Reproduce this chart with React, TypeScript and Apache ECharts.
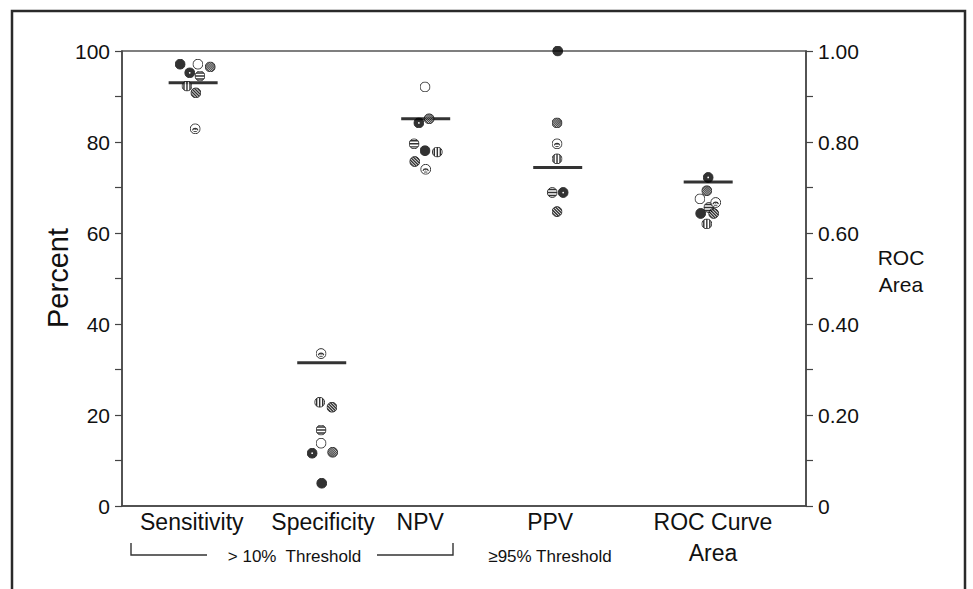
import React, { useEffect, useRef } from 'react';
import * as echarts from 'echarts';

// ---------- data ----------
const categories = ['Sensitivity', 'Specificity', 'NPV', 'PPV', 'ROC Curve\nArea'];
// positions of the groups on the (hidden-scale) x axis, 0..100
const categoryX = [10.4, 29.2, 44.4, 63.7, 85.7];
const labelX = [10.2, 29.4, 43.6, 62.6, 86.4];

const studyNames = ['Study 1', 'Study 2', 'Study 3', 'Study 4', 'Study 5', 'Study 6', 'Study 7', 'Study 8'];
const markerKinds = ['solid', 'dotted', 'open', 'crosshatch', 'horizontal', 'vertical', 'diagonal', 'face'];

const sensitivity = [97.1, 95.2, 97.1, 96.5, 94.5, 92.3, 90.8, 82.9];
const specificity = [5.0, 11.6, 13.8, 11.8, 16.7, 22.8, 21.7, 33.5];
const npv = [78.1, 84.2, 92.1, 85.1, 79.6, 77.8, 75.7, 74.0];
const ppv: (number | null)[] = [100, 68.9, null, 84.2, 68.9, 76.3, 64.7, 79.6];
const rocArea = [0.643, 0.722, 0.675, 0.693, 0.656, 0.62, 0.643, 0.667];

// horizontal jitter of each study's point inside its group (x-axis units)
const sensJitter = [-1.9, -0.5, 0.7, 2.5, 1.0, -0.9, 0.4, 0.3];
const specJitter = [0, -1.4, -0.1, 1.6, -0.1, -0.3, 1.5, -0.1];
const npvJitter = [-0.1, -1.0, -0.1, 0.5, -1.7, 1.7, -1.6, 0];
const ppvJitter = [0, 0.8, 0, -0.1, -0.8, -0.1, -0.1, -0.1];
const rocJitter = [-1.1, 0, -1.2, -0.2, 0.1, -0.2, 0.8, 1.1];

const pooledPercent = [93.0, 31.5, 85.1, 74.4];
const pooledRoc = 0.712;

const percentTicks = [0, 20, 40, 60, 80, 100];

// ---------- markers ----------
const FONT = "'Liberation Sans', Arial, Helvetica, sans-serif";

function markerSvg(kind: string): string {
  let inner = '';
  let fill = 'white';
  const lines: string[] = [];
  if (kind === 'solid') fill = 'black';
  if (kind === 'dotted') {
    fill = 'black';
    inner = "<circle cx='10' cy='10' r='1.6' fill='white'/>";
  }
  if (kind === 'horizontal') {
    for (const y of [4.5, 10, 15.5]) lines.push(`<line x1='0' y1='${y}' x2='20' y2='${y}'/>`);
  }
  if (kind === 'vertical') {
    for (const x of [4.5, 10, 15.5]) lines.push(`<line x1='${x}' y1='0' x2='${x}' y2='20'/>`);
  }
  if (kind === 'diagonal') {
    for (const c of [-11, -5.5, 0, 5.5, 11]) lines.push(`<line x1='${c - 5}' y1='-5' x2='${c + 25}' y2='25'/>`);
  }
  let sw = 2.6;
  if (kind === 'crosshatch') {
    sw = 1.4;
    for (let c = -20; c <= 20; c += 3.4) {
      lines.push(`<line x1='${c - 5}' y1='-5' x2='${c + 25}' y2='25'/>`);
      lines.push(`<line x1='${c + 25}' y1='-5' x2='${c - 5}' y2='25'/>`);
    }
  }
  if (kind === 'face') {
    inner =
      "<path d='M5 13 A5.2 5.2 0 0 1 15 13' fill='none' stroke='black' stroke-width='2'/>" +
      "<line x1='7' y1='15' x2='13' y2='15' stroke='black' stroke-width='1.6'/>" +
      "<circle cx='10' cy='11' r='1.2' fill='black'/>";
  }
  const svg =
    `<svg xmlns='http://www.w3.org/2000/svg' width='20' height='20' viewBox='0 0 20 20'>` +
    `<defs><clipPath id='c'><circle cx='10' cy='10' r='9'/></clipPath></defs>` +
    `<circle cx='10' cy='10' r='9' fill='${fill}'/>` +
    `<g clip-path='url(#c)' stroke='black' stroke-width='${sw}'>${lines.join('')}</g>` +
    inner +
    `<circle cx='10' cy='10' r='9' fill='none' stroke='black' stroke-width='1.8'/>` +
    `</svg>`;
  return 'image://data:image/svg+xml;charset=utf-8,' + encodeURIComponent(svg);
}

export default function App() {
  const ref = useRef<HTMLDivElement>(null);

  useEffect(() => {
    if (!ref.current) return;
    const chart = echarts.init(ref.current, undefined, { renderer: 'svg' });

    const metricValues = [sensitivity, specificity, npv, ppv];
    const metricJitter = [sensJitter, specJitter, npvJitter, ppvJitter];

    const studySeries: any[] = [];
    studyNames.forEach((name, s) => {
      const symbol = markerSvg(markerKinds[s]);
      const data: any[] = [];
      metricValues.forEach((vals, m) => {
        const v = vals[s];
        if (v != null) data.push([categoryX[m] + metricJitter[m][s], v]);
      });
      studySeries.push({
        name,
        type: 'scatter',
        xAxisIndex: 0,
        yAxisIndex: 0,
        symbol,
        symbolSize: 11,
        z: 5,
        data,
      });
      studySeries.push({
        name,
        type: 'scatter',
        xAxisIndex: 0,
        yAxisIndex: 1,
        symbol,
        symbolSize: 11,
        z: 5,
        data: [[categoryX[4] + rocJitter[s], rocArea[s]]],
      });
    });

    const axisLineStyle = { color: '#444', width: 1.5 };

    chart.setOption({
      animation: false,
      backgroundColor: '#ffffff',
      grid: {
        left: 122,
        right: 167,
        top: 51,
        bottom: 83,
        containLabel: false,
        outerBoundsMode: 'none',
        show: true,
        borderColor: '#555',
        borderWidth: 1.5,
        backgroundColor: 'transparent',
      },
      xAxis: [
        {
          type: 'value',
          min: 0,
          max: 100,
          axisLine: { show: true, lineStyle: axisLineStyle },
          axisTick: { show: false },
          splitLine: { show: false },
          axisLabel: {
            customValues: labelX,
            formatter: (v: number) => {
              const i = labelX.indexOf(v);
              return i >= 0 ? categories[i] : '';
            },
            fontFamily: FONT,
            fontSize: 23,
            lineHeight: 31,
            color: '#111',
            margin: 0,
            align: 'center',
          },
        },
      ],
      yAxis: [
        {
          type: 'value',
          position: 'left',
          min: 0,
          max: 100,
          interval: 20,
          axisLine: { show: true, lineStyle: axisLineStyle },
          axisTick: { show: true, inside: false, length: 7, lineStyle: { color: '#444', width: 1.2 } },
          minorTick: { show: true, splitNumber: 2, length: 7, lineStyle: { color: '#444', width: 1.2 } },
          splitLine: { show: false },
          minorSplitLine: { show: false },
          axisLabel: {
            fontFamily: FONT,
            fontSize: 21,
            color: '#111',
            margin: 12,
            formatter: (v: number) => (percentTicks.includes(v) ? String(v) : ''),
          },
        },
        {
          type: 'value',
          position: 'right',
          min: 0,
          max: 1,
          interval: 0.2,
          axisLine: { show: true, lineStyle: axisLineStyle },
          axisTick: { show: true, inside: false, length: 7, lineStyle: { color: '#444', width: 1.2 } },
          minorTick: { show: true, splitNumber: 2, length: 7, lineStyle: { color: '#444', width: 1.2 } },
          splitLine: { show: false },
          minorSplitLine: { show: false },
          axisLabel: {
            fontFamily: FONT,
            fontSize: 21,
            color: '#111',
            margin: 12,
            formatter: (v: number) => (v === 0 ? '0' : v.toFixed(2)),
          },
        },
      ],
      series: [
        {
          name: 'Pooled',
          type: 'scatter',
          xAxisIndex: 0,
          yAxisIndex: 0,
          symbol: 'rect',
          symbolSize: [49, 3],
          itemStyle: { color: '#000' },
          z: 3,
          data: pooledPercent.map((v, i) => [categoryX[i], v]),
        },
        {
          name: 'Pooled ROC',
          type: 'scatter',
          xAxisIndex: 0,
          yAxisIndex: 1,
          symbol: 'rect',
          symbolSize: [49, 3],
          itemStyle: { color: '#000' },
          z: 3,
          data: [[categoryX[4], pooledRoc]],
        },
        ...studySeries,
      ],
      graphic: [
        {
          type: 'rect',
          silent: true,
          shape: { x: 12, y: 11, width: 953, height: 640 },
          style: { fill: 'none', stroke: '#2a2a2a', lineWidth: 2.5 },
        },
        {
          type: 'text',
          x: 58,
          y: 278,
          rotation: Math.PI / 2,
          style: {
            text: 'Percent',
            font: `29px ${FONT}`,
            fill: '#111',
            align: 'center',
            verticalAlign: 'middle',
          },
        },
        {
          type: 'text',
          x: 901,
          y: 271,
          style: {
            text: 'ROC\nArea',
            font: `21px ${FONT}`,
            fill: '#111',
            align: 'center',
            verticalAlign: 'middle',
            lineHeight: 27,
          },
        },
        {
          type: 'polyline',
          silent: true,
          shape: { points: [[131, 543], [131, 555], [207, 555]] },
          style: { stroke: '#333', lineWidth: 1.4, fill: 'none' },
        },
        {
          type: 'polyline',
          silent: true,
          shape: { points: [[377, 555], [453, 555], [453, 543]] },
          style: { stroke: '#333', lineWidth: 1.4, fill: 'none' },
        },
        {
          type: 'text',
          x: 294.5,
          y: 556,
          style: {
            text: '> 10%  Threshold',
            font: `17px ${FONT}`,
            fill: '#111',
            align: 'center',
            verticalAlign: 'middle',
          },
        },
        {
          type: 'text',
          x: 550,
          y: 556,
          style: {
            text: '≥95% Threshold',
            font: `17px ${FONT}`,
            fill: '#111',
            align: 'center',
            verticalAlign: 'middle',
          },
        },
      ],
    });

    return () => chart.dispose();
  }, []);

  return (
    <div
      ref={ref}
      style={{ position: 'absolute', left: 0, top: 0, width: 973, height: 589, background: '#fff' }}
    />
  );
}
